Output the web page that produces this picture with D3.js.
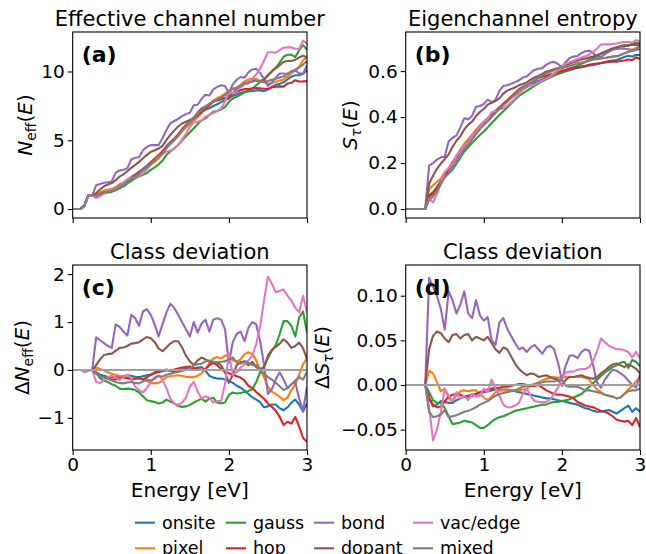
<!DOCTYPE html>
<html>
<head>
<meta charset="utf-8">
<script src="https://cdnjs.cloudflare.com/ajax/libs/d3/7.8.5/d3.min.js"></script>
<style>
body { margin: 0; background: #fff; }
text { font-family: "DejaVu Sans", sans-serif; fill: #000; }
</style>
</head>
<body>
<div id="chart"></div>
<script>
// energy grid [eV]
var energy = [0,0.05,0.1,0.15,0.2,0.25,0.3,0.35,0.4,0.45,0.5,0.55,0.6,0.65,0.7,0.75,0.8,0.85,0.9,0.95,
  1,1.05,1.1,1.15,1.2,1.25,1.3,1.35,1.4,1.45,1.5,1.55,1.6,1.65,1.7,1.75,1.8,1.85,1.9,1.95,
  2,2.05,2.1,2.15,2.2,2.25,2.3,2.35,2.4,2.45,2.5,2.55,2.6,2.65,2.7,2.75,2.8,2.85,2.9,2.95,3];

var classes = ["onsite", "pixel", "gauss", "hop", "bond", "dopant", "vac/edge", "mixed"];
var colours = ["#1f77b4", "#ff7f0e", "#2ca02c", "#d62728", "#9467bd", "#8c564b", "#e377c2", "#7f7f7f"];

var meanNeff = [0,0,0,0.25,1,1,1.05,1.2,1.35,1.45,1.55,1.7,1.9,2.05,2.25,2.45,2.65,2.85,3.05,3.25,
  3.5,3.7,3.95,4.2,4.55,4.85,5.1,5.4,5.75,6.05,6.3,6.55,6.8,7.05,7.25,7.45,7.65,7.8,7.95,8.1,
  8.3,8.5,8.65,8.8,8.95,9.05,9.15,9.25,9.3,9.35,9.45,9.6,9.75,9.9,10.05,10.2,10.3,10.35,10.45,10.7,10.8];
var meanS = [0,0,0,0,0,0,0.07,0.09,0.115,0.14,0.165,0.19,0.215,0.24,0.265,0.29,0.31,0.33,0.35,0.37,
  0.385,0.4,0.415,0.43,0.445,0.46,0.475,0.49,0.505,0.52,0.53,0.54,0.55,0.56,0.57,0.578,0.586,0.593,0.6,0.606,
  0.612,0.618,0.624,0.63,0.636,0.641,0.646,0.651,0.656,0.66,0.664,0.668,0.672,0.676,0.68,0.684,0.687,0.69,0.693,0.697,0.7];

// deviation from class mean, delta N_eff (panel c)
var dN_onsite = [0,0,0,0,0,0,-0.05,-0.1,-0.12,-0.14,-0.15,-0.15,-0.14,-0.13,-0.11,-0.12,-0.14,-0.15,-0.13,-0.11,-0.1,
  -0.07,-0.04,-0.02,0.01,-0.02,-0.03,0,0.01,0.03,0.03,0.03,0.05,0.06,-0.02,-0.12,-0.16,-0.18,-0.18,-0.2,-0.23,
  -0.27,-0.33,-0.37,-0.43,-0.5,-0.57,-0.62,-0.67,-0.78,-0.76,-0.72,-0.72,-0.8,-0.84,-0.78,-0.68,-0.62,-0.72,-0.87,-0.7];
var dN_pixel = [0,0,0,0,0,0,0.05,0.02,-0.01,-0.05,-0.08,-0.1,-0.12,-0.15,-0.17,-0.18,-0.17,-0.18,-0.2,-0.23,-0.27,
  -0.28,-0.27,-0.22,-0.15,-0.13,-0.12,-0.11,-0.12,-0.14,-0.15,-0.15,-0.12,-0.07,0.02,0.14,0.24,0.27,0.24,0.3,0.3,
  0.2,0.18,0.22,0.33,0.37,0.33,0.2,0,-0.15,-0.35,-0.45,-0.5,-0.56,-0.63,-0.58,-0.42,-0.3,-0.1,0.12,0.24];
var dN_gauss = [0,0,0,0,0,0,-0.05,-0.17,-0.22,-0.25,-0.3,-0.33,-0.39,-0.4,-0.39,-0.4,-0.42,-0.47,-0.55,-0.63,-0.65,
  -0.67,-0.7,-0.68,-0.62,-0.66,-0.7,-0.75,-0.77,-0.76,-0.73,-0.68,-0.64,-0.6,-0.66,-0.6,-0.58,-0.68,-0.7,-0.68,-0.52,
  -0.47,-0.49,-0.48,-0.46,-0.44,-0.4,-0.25,-0.05,0.08,0.25,0.4,0.52,0.75,1.02,1.02,0.92,0.7,1.1,1.22,0.78];
var dN_hop = [0,0,0,0,0,0,-0.08,-0.12,-0.15,-0.18,-0.2,-0.2,-0.18,-0.15,-0.17,-0.2,-0.18,-0.17,-0.2,-0.15,-0.1,
  -0.05,-0.04,-0.02,-0.01,0,0.01,0.03,0.05,0.06,0.07,0.04,0.02,0,0.02,0.1,0.15,0.1,0.02,-0.04,-0.07,
  -0.1,-0.13,-0.16,-0.22,-0.33,-0.38,-0.46,-0.53,-0.6,-0.7,-0.77,-0.85,-0.98,-1.15,-1.08,-1.12,-0.98,-1.18,-1.42,-1.5];
var dN_bond = [0,0,0,0,0,0,0.68,0.62,0.56,0.5,0.46,0.95,0.9,0.8,0.72,1.15,1.08,0.92,1.22,1.27,1.15,
  0.95,0.7,0.95,1.2,1.38,1.3,1.15,1,0.85,0.7,1,0.78,0.97,1.05,0.8,1.05,1.08,1.05,0.85,0.15,
  0.58,0.75,0.8,0.6,0.88,1,0.95,0.6,0.1,-0.5,-0.4,-0.2,-0.05,-0.2,-0.38,-0.3,-0.25,-0.6,-0.85,-0.35];
var dN_dopant = [0,0,0,0,0,0,0.1,0.22,0.31,0.33,0.34,0.4,0.46,0.47,0.5,0.55,0.56,0.58,0.64,0.69,0.66,
  0.58,0.45,0.39,0.47,0.55,0.6,0.6,0.47,0.3,0.18,0.1,0.2,0.26,0.22,0.17,0.17,0.15,0.1,-0.05,-0.27,
  -0.1,0.1,0.17,0.15,0.1,0.17,0.06,0.02,0.05,0.3,0.42,0.48,0.55,0.64,0.57,0.46,0.5,0.57,0.45,0.23];
var dN_vacedge = [0,0,0,-0.05,-0.02,0,-0.25,-0.27,-0.21,-0.15,-0.12,-0.15,-0.21,-0.15,-0.1,-0.17,-0.35,-0.42,-0.47,-0.38,-0.25,
  -0.15,-0.12,-0.2,-0.38,-0.6,-0.7,-0.73,-0.68,-0.58,-0.35,-0.25,-0.45,-0.6,-0.55,-0.58,-0.68,-0.65,-0.65,-0.3,0.35,
  -0.1,-0.05,0.05,0.12,0.2,0.3,0.55,0.9,1.45,1.95,1.8,1.62,1.65,1.68,1.55,1.45,1.3,1.2,1.55,1.2];
var dN_mixed = [0,0,0,0,0,0,-0.08,-0.13,-0.15,-0.18,-0.22,-0.25,-0.27,-0.28,-0.26,-0.25,-0.27,-0.28,-0.24,-0.2,-0.22,
  -0.18,-0.12,-0.14,-0.1,-0.08,-0.06,-0.04,-0.02,0,0.03,0.1,0.12,0.13,0.18,0.2,0.17,0.16,0.17,0.18,0.22,
  0.26,0.16,0.13,0.19,0.15,0.1,0.1,0,-0.08,-0.15,-0.2,-0.27,-0.34,-0.42,-0.38,-0.3,-0.22,-0.15,-0.2,-0.04];

// deviation from class mean, delta S_tau (panel d)
var dS_onsite = [0,0,0,0,0,0,-0.015,-0.024,-0.022,-0.018,-0.019,-0.02,-0.02,-0.017,-0.015,-0.013,-0.012,-0.011,-0.01,-0.009,-0.008,
  -0.007,-0.006,-0.005,-0.005,-0.005,-0.005,-0.006,-0.007,-0.008,-0.009,-0.01,-0.011,-0.012,-0.013,-0.014,-0.015,-0.015,-0.016,-0.017,-0.018,
  -0.019,-0.02,-0.021,-0.022,-0.024,-0.026,-0.027,-0.029,-0.03,-0.03,-0.029,-0.028,-0.03,-0.032,-0.029,-0.026,-0.023,-0.03,-0.026,-0.03];
var dS_pixel = [0,0,0,0,0,0,0.016,0.013,0.003,-0.007,-0.004,-0.015,-0.018,-0.012,-0.007,-0.006,-0.007,-0.006,-0.006,-0.01,-0.014,
  -0.017,-0.013,-0.008,-0.006,-0.006,-0.006,-0.006,-0.006,-0.006,-0.005,-0.004,-0.001,0.001,0.003,0.005,0.007,0.008,0.009,0.008,0.009,
  0.009,0.009,0.009,0.009,0.009,0.008,0.006,0,-0.005,-0.008,-0.011,-0.012,-0.013,-0.015,-0.014,-0.01,-0.005,-0.001,0.004,0.009];
var dS_gauss = [0,0,0,0,0,0,-0.008,-0.017,-0.02,-0.02,-0.026,-0.035,-0.044,-0.043,-0.042,-0.04,-0.041,-0.042,-0.045,-0.048,-0.048,
  -0.045,-0.041,-0.038,-0.036,-0.035,-0.033,-0.031,-0.029,-0.028,-0.027,-0.026,-0.025,-0.024,-0.023,-0.022,-0.022,-0.02,-0.019,-0.019,-0.018,
  -0.017,-0.016,-0.014,-0.012,-0.01,-0.006,-0.002,0.002,0.006,0.01,0.014,0.017,0.02,0.022,0.025,0.026,0.019,0.028,0.026,0.021];
var dS_hop = [0,0,0,0,0,0,-0.015,-0.022,-0.025,-0.024,-0.018,-0.013,-0.011,-0.01,-0.011,-0.013,-0.013,-0.012,-0.01,-0.008,-0.006,
  -0.005,-0.004,-0.003,-0.003,-0.002,-0.002,-0.001,0,0.001,0.001,0,-0.001,-0.001,0,-0.003,-0.006,-0.008,-0.01,-0.011,-0.011,
  -0.012,-0.013,-0.015,-0.019,-0.021,-0.023,-0.024,-0.025,-0.027,-0.029,-0.03,-0.032,-0.035,-0.039,-0.04,-0.041,-0.04,-0.045,-0.037,-0.047];
var dS_bond = [0,0,0,0,0,0,0.12,0.11,0.1,0.085,0.062,0.105,0.095,0.08,0.09,0.105,0.08,0.075,0.095,0.078,0.072,
  0.076,0.05,0.045,0.07,0.075,0.063,0.055,0.047,0.04,0.042,0.037,0.042,0.045,0.04,0.035,0.042,0.044,0.04,0.025,0.005,
  0.022,0.033,0.033,0.03,0.037,0.04,0.038,0.022,0.003,-0.003,0.006,0.012,0.017,0.016,0.013,0.01,0.005,0,-0.003,0.012];
var dS_dopant = [0,0,0,0,0,0,0.04,0.055,0.06,0.058,0.052,0.048,0.056,0.057,0.052,0.056,0.057,0.05,0.054,0.052,0.05,
  0.054,0.047,0.04,0.036,0.042,0.04,0.032,0.024,0.018,0.014,0.011,0.013,0.012,0.009,0.01,0.011,0.009,0.007,0.006,-0.001,
  0.006,0.009,0.009,0.01,0.011,0.009,0.008,0.007,0.009,0.013,0.016,0.02,0.023,0.024,0.022,0.02,0.023,0.021,0.018,0.013];
var dS_vacedge = [0,0,0,0,0,0,-0.025,-0.062,-0.05,-0.03,-0.004,-0.012,-0.018,-0.008,-0.015,-0.012,-0.017,-0.01,-0.013,-0.012,-0.004,
  -0.008,0.006,-0.004,-0.012,-0.022,-0.025,-0.025,-0.023,-0.02,-0.01,-0.004,-0.012,-0.018,-0.019,-0.019,-0.019,-0.016,-0.01,-0.003,0.007,
  0.014,0.015,0.015,0.017,0.018,0.018,0.02,0.027,0.038,0.052,0.048,0.044,0.042,0.04,0.04,0.039,0.037,0.031,0.037,0.03];
var dS_mixed = [0,0,0,0,0,0,-0.03,-0.036,-0.035,-0.033,-0.028,-0.036,-0.035,-0.034,-0.032,-0.03,-0.029,-0.027,-0.025,-0.022,-0.02,
  -0.018,-0.015,-0.012,-0.01,-0.009,-0.008,-0.007,-0.006,-0.004,-0.002,-0.001,0,0.001,0.002,0.003,0.004,0.004,0.004,0.005,0.006,
  -0.001,-0.002,-0.002,-0.002,-0.004,-0.006,-0.006,-0.007,-0.008,-0.009,-0.011,-0.012,-0.013,-0.015,-0.014,-0.01,-0.007,-0.006,-0.006,-0.004];

var devNeff = [dN_onsite, dN_pixel, dN_gauss, dN_hop, dN_bond, dN_dopant, dN_vacedge, dN_mixed];
var devS = [dS_onsite, dS_pixel, dS_gauss, dS_hop, dS_bond, dS_dopant, dS_vacedge, dS_mixed];

var xTicks = [0, 1, 2, 3];

var w = 646, h = 554;
var svg = d3.select("#chart").append("svg")
    .attr("width", w)
    .attr("height", h);

// panels: a/b show class value (mean + deviation), c/d show deviation only
var panels = [
  {id: "a", title: "Effective channel number", x0: 72.7, x1: 307, y0: 32, y1: 218,
   yDomain: [-0.65, 12.87], yTicks: [0, 5, 10], fmt: d3.format("d"),
   mean: meanNeff, dev: devNeff, xLabels: false, labX: 32,
   label: [{t: "N", i: true}, {t: "eff", sub: true}, {t: "("}, {t: "E", i: true}, {t: ")"}]},
  {id: "b", title: "Eigenchannel entropy", x0: 405.7, x1: 640, y0: 32, y1: 218,
   yDomain: [-0.039, 0.77], yTicks: [0, 0.2, 0.4, 0.6], fmt: d3.format(".1f"),
   mean: meanS, dev: devS, xLabels: false, labX: 357,
   label: [{t: "S", i: true}, {t: "τ", sub: true, i: true}, {t: "("}, {t: "E", i: true}, {t: ")"}]},
  {id: "c", title: "Class deviation", x0: 72.7, x1: 307, y0: 265, y1: 450,
   yDomain: [-1.67, 2.19], yTicks: [-1, 0, 1, 2], fmt: d3.format("d"),
   mean: null, dev: devNeff, xLabels: true, labX: 29,
   label: [{t: "Δ"}, {t: "N", i: true}, {t: "eff", sub: true}, {t: "("}, {t: "E", i: true}, {t: ")"}]},
  {id: "d", title: "Class deviation", x0: 405.7, x1: 640, y0: 265, y1: 450,
   yDomain: [-0.0728, 0.1344], yTicks: [-0.05, 0, 0.05, 0.1], fmt: d3.format(".2f"),
   mean: null, dev: devS, xLabels: true, labX: 329,
   label: [{t: "Δ"}, {t: "S", i: true}, {t: "τ", sub: true, i: true}, {t: "("}, {t: "E", i: true}, {t: ")"}]}
];

panels.forEach(function(p) {
    var x = d3.scaleLinear().domain([0, 3]).range([p.x0, p.x1]);
    var y = d3.scaleLinear().domain(p.yDomain).range([p.y1, p.y0]);
    var g = svg.append("g");

    g.append("clipPath").attr("id", "clip-" + p.id)
      .append("rect")
        .attr("x", p.x0).attr("y", p.y0)
        .attr("width", p.x1 - p.x0).attr("height", p.y1 - p.y0);

    var line = d3.line()
        .x(function(d) { return x(d[0]); })
        .y(function(d) { return y(d[1]); });

    var series = p.dev.map(function(dev) {
        return energy.map(function(e, i) {
            return [e, p.mean ? p.mean[i] + dev[i] : dev[i]];
        });
    });

    g.append("g").attr("clip-path", "url(#clip-" + p.id + ")")
      .selectAll("path")
      .data(series)
      .enter()
      .append("path")
        .attr("d", line)
        .attr("fill", "none")
        .attr("stroke", function(d, i) { return colours[i]; })
        .attr("stroke-width", 2.1)
        .attr("stroke-linejoin", "round");

    // zero reference line on the deviation panels
    if (!p.mean) {
        g.append("line")
          .attr("x1", p.x0).attr("x2", p.x1)
          .attr("y1", y(0)).attr("y2", y(0))
          .attr("stroke", "#a0a0a0")
          .attr("stroke-width", 2);
    }

    var xAxis = d3.axisBottom(x).tickValues(xTicks).tickSize(5).tickPadding(3)
        .tickFormat(p.xLabels ? d3.format("d") : "");
    var yAxis = d3.axisLeft(y).tickValues(p.yTicks).tickSize(5).tickPadding(3).tickFormat(p.fmt);

    g.append("g").attr("transform", "translate(0," + p.y1 + ")").call(xAxis);
    g.append("g").attr("transform", "translate(" + p.x0 + ",0)").call(yAxis);
    g.selectAll(".domain").remove();
    g.selectAll(".tick line").attr("stroke", "#000").attr("stroke-width", 1.1);
    g.selectAll(".tick text")
      .attr("font-family", "DejaVu Sans, sans-serif")
      .attr("font-size", "18.5px")
      .attr("fill", "#000");

    // axes box
    g.append("rect")
      .attr("x", p.x0).attr("y", p.y0)
      .attr("width", p.x1 - p.x0).attr("height", p.y1 - p.y0)
      .attr("fill", "none")
      .attr("stroke", "#000")
      .attr("stroke-width", 1.1);

    g.append("text")
      .attr("x", (p.x0 + p.x1) / 2)
      .attr("y", p.y0 - 6)
      .attr("text-anchor", "middle")
      .attr("font-size", "21px")
      .text(p.title);

    g.append("text")
      .attr("x", p.x0 + 9)
      .attr("y", p.y0 + 30)
      .attr("font-size", "22px")
      .attr("font-weight", "bold")
      .text("(" + p.id + ")");

    // rotated y label built from tspans (italic symbols, subscript)
    var lab = g.append("text")
      .attr("transform", "translate(" + p.labX + "," + ((p.y0 + p.y1) / 2) + ") rotate(-90)")
      .attr("text-anchor", "middle")
      .attr("font-size", "20px");
    var shift = 0;
    p.label.forEach(function(part) {
        var ts = lab.append("tspan").text(part.t);
        if (part.i) ts.attr("font-style", "italic");
        if (part.sub) {
            ts.attr("font-size", "14px").attr("dy", 4);
            shift = 4;
        } else if (shift) {
            ts.attr("dy", -shift);
            shift = 0;
        }
    });

    if (p.xLabels) {
        g.append("text")
          .attr("x", (p.x0 + p.x1) / 2)
          .attr("y", 497)
          .attr("text-anchor", "middle")
          .attr("font-size", "20px")
          .text("Energy [eV]");
    }
});

// legend, 4 columns filled column by column
var colX = [135, 226, 314, 413];
var rowY = [522.7, 548.3];
var legend = svg.append("g");
classes.forEach(function(name, i) {
    var cx = colX[Math.floor(i / 2)], cy = rowY[i % 2];
    legend.append("line")
      .attr("x1", cx).attr("x2", cx + 20)
      .attr("y1", cy).attr("y2", cy)
      .attr("stroke", colours[i])
      .attr("stroke-width", 2.1);
    legend.append("text")
      .attr("x", cx + 27)
      .attr("y", cy + 6)
      .attr("font-size", "17.5px")
      .text(name);
});
</script>
</body>
</html>
